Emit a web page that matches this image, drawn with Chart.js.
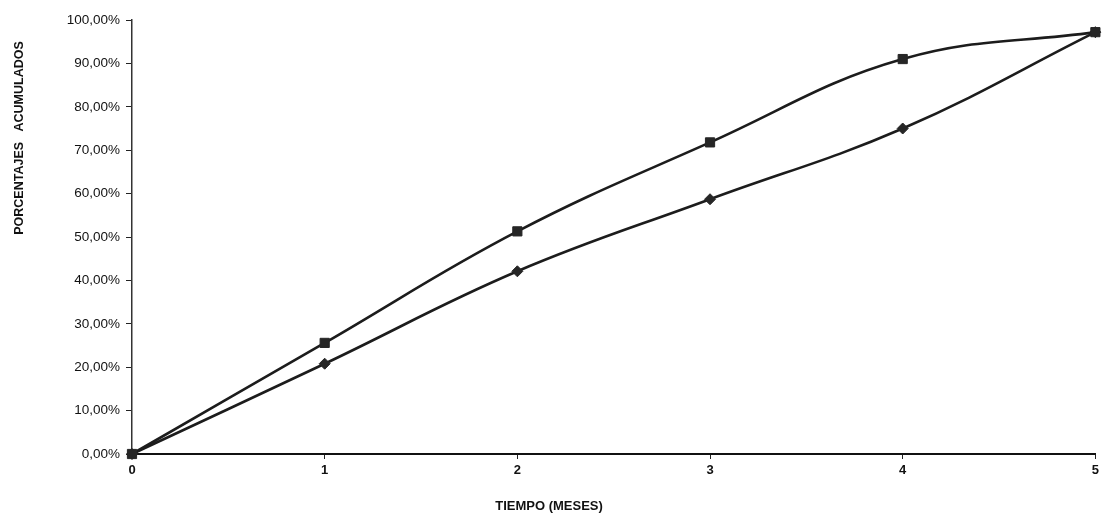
<!DOCTYPE html>
<html>
<head>
<meta charset="utf-8">
<script src="https://cdn.jsdelivr.net/npm/chart.js@4"></script>
<style>
  html, body { margin: 0; padding: 0; background: #ffffff; }
  #wrap { width: 1103px; height: 521px; position: relative; }
</style>
</head>
<body>
<div id="wrap"><canvas id="curvaChart"></canvas></div>
<script>
// meses
var months = ['0', '1', '2', '3', '4', '5'];
// serie superior (cuadrados)
var squareSeries = [0, 25.6, 51.3, 71.8, 91.0, 97.2];
// serie inferior (rombos)
var diamondSeries = [0, 20.8, 42.1, 58.7, 75.0, 97.2];
var yTicksMin = 0;
var yTicksMax = 100;
var yTicksStep = 10;
var xTitle = 'TIEMPO (MESES)';
var yTitle = 'PORCENTAJES   ACUMULADOS';

// titles are drawn by hand so they sit where the original put them
const axisTitles = {
    id: 'axisTitles',
    afterDraw: function(chart) {
        var ctx = chart.ctx;
        ctx.save();
        ctx.fillStyle = '#111111';
        ctx.textAlign = 'center';
        ctx.textBaseline = 'middle';
        ctx.font = 'bold 13px "Liberation Sans", Arial, sans-serif';
        ctx.fillText(xTitle, 549, 506);
        ctx.font = 'bold 12.5px "Liberation Sans", Arial, sans-serif';
        ctx.translate(20, 138);
        ctx.rotate(-Math.PI / 2);
        ctx.fillText(yTitle, 0, 0);
        ctx.restore();
    }
};

const ctx = document.getElementById('curvaChart');

new Chart(ctx, {
    type: 'line',
    data: {
        labels: months,
        datasets: [{
            data: squareSeries,
            borderColor: '#1c1c1c',
            borderWidth: 2.6,
            tension: 0.4,
            clip: false,
            pointStyle: 'rect',
            pointRadius: 6.5,
            pointBackgroundColor: '#262626',
            pointBorderColor: '#262626',
            pointBorderWidth: 1
        }, {
            data: diamondSeries,
            borderColor: '#1c1c1c',
            borderWidth: 2.6,
            tension: 0.4,
            clip: false,
            pointStyle: 'rectRot',
            pointRadius: 5.5,
            pointBackgroundColor: '#262626',
            pointBorderColor: '#262626',
            pointBorderWidth: 1
        }]
    },
    options: {
        responsive: true,
        maintainAspectRatio: false,
        animation: false,
        layout: {
            padding: { top: 20, right: 5, left: 0, bottom: 0 }
        },
        scales: {
            x: {
                offset: false,
                grid: {
                    display: true,
                    drawOnChartArea: false,
                    drawTicks: true,
                    tickLength: 5,
                    color: '#222222'
                },
                border: { color: '#111111', width: 2 },
                ticks: {
                    color: '#111111',
                    padding: 4,
                    maxRotation: 0,
                    font: { family: '"Liberation Sans", Arial, sans-serif', size: 13, weight: 'bold' }
                },
                afterFit: function(scale) { scale.height = 67; }
            },
            y: {
                min: yTicksMin,
                max: yTicksMax,
                grid: {
                    display: true,
                    drawOnChartArea: false,
                    drawTicks: true,
                    tickLength: 6,
                    color: '#222222'
                },
                border: { color: '#333333', width: 1.5, dash: [2, 1] },
                ticks: {
                    stepSize: yTicksStep,
                    color: '#111111',
                    padding: 6,
                    font: { family: '"Liberation Sans", Arial, sans-serif', size: 13.5 },
                    callback: function(value) {
                        return value.toFixed(2).replace('.', ',') + '%';
                    }
                },
                afterFit: function(scale) { scale.width = 132; }
            }
        },
        plugins: {
            legend: { display: false },
            tooltip: { enabled: false }
        }
    },
    plugins: [axisTitles]
});
</script>
</body>
</html>
